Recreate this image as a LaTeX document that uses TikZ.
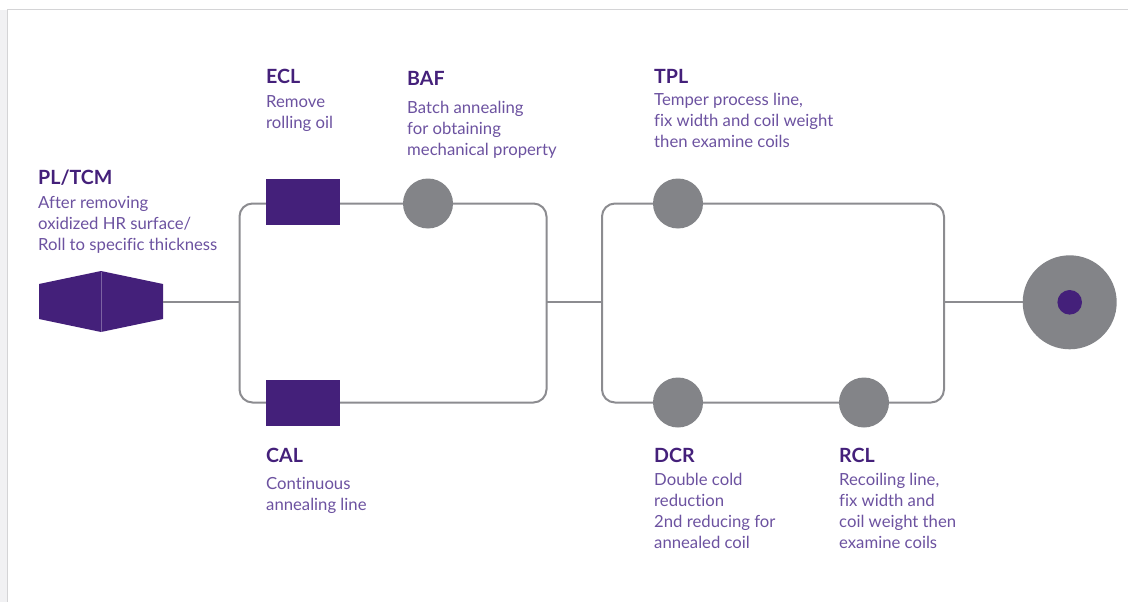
\documentclass[tikz,border=0pt]{standalone}
\usepackage{fontspec}
\setmainfont{Lato}[Ligatures=NoCommon]
\definecolor{deep}{HTML}{44207A}
\definecolor{soft}{HTML}{6C52A0}
\definecolor{steel}{HTML}{838488}
\definecolor{wire}{HTML}{8C8C90}
\definecolor{frameline}{HTML}{D4D4D6}
\definecolor{frameband}{HTML}{F1F1F3}
\tikzset{
  ttl/.style={anchor=base west, inner sep=0pt, text=deep, font=\fontsize{19.6}{20}\selectfont\bfseries},
  txt/.style={anchor=base west, inner sep=0pt, text=soft, font=\fontsize{16.7}{17}\selectfont},
  wireline/.style={draw=wire, line width=2pt},
  unit/.style={circle, fill=steel, minimum size=50pt, inner sep=0pt},
  bath/.style={rectangle, fill=deep, minimum width=74pt, minimum height=46pt, inner sep=0pt},
}
% caption block: title plus body lines at a fixed baseline pitch
\newcommand{\stagecaption}[6]{%
  \node[ttl] (#1-t) at (#2,#3) {#4};
  \foreach \ln [count=\k] in {#6}
    \node[txt] (#1-\k) at (#2,{#5+(\k-1)*20.9}) {\ln};
}
\begin{document}
\begin{tikzpicture}[x=1pt,y=-1pt]
\useasboundingbox (0,0) rectangle (1128,602);
% page frame
\fill[frameband] (0,10) rectangle (6.5,602);
\draw[frameline, line width=1pt] (7,10) -- (7,602);
\draw[frameline, line width=1.6pt] (7,9.5) -- (1128,9.5);

% loops of the line
\draw[wireline, rounded corners=13pt] (239.5,203.5) rectangle (546.5,402.5);
\draw[wireline, rounded corners=13pt] (602,203.5) rectangle (944,402.5);

\coordinate (aW) at (239.5,302.3);
\coordinate (aE) at (546.5,302.3);
\coordinate (bW) at (602,302.3);
\coordinate (bE) at (944,302.3);

% pickling / tandem cold mill
\fill[deep] (39,284) -- (101,271) -- (163,284) -- (163,319) -- (101,332) -- (39,319) -- cycle;
\draw[deep!70!white, line width=0.6pt] (101,271.5) -- (101,331.5);
\coordinate (plR) at (163,302.3);

% process units
\node[bath] (ecl) at (303,201.7) {};
\node[bath] (cal) at (303,403) {};
\node[unit] (baf) at (428,203.5) {};
\node[unit] (tpl) at (678,203.5) {};
\node[unit] (dcr) at (678,402.5) {};
\node[unit] (rcl) at (864,402.5) {};
\node[circle, fill=steel, minimum size=94pt, inner sep=0pt] (coil) at (1069.7,302.3) {};
\node[circle, fill=deep, minimum size=24.6pt, inner sep=0pt] (core) at (coil.center) {};

% connectors between the stages
\draw[wireline] (plR) -- (aW);
\draw[wireline] (aE) -- (bW);
\draw[wireline] (bE) -- (coil.west);

% captions
\stagecaption{pl}{38}{184}{PL/TCM}{208.7}{After removing, oxidized HR surface/, Roll to specific thickness}
\stagecaption{eclc}{266}{84}{ECL}{107.7}{Remove, rolling oil}
\stagecaption{bafc}{407}{85}{BAF}{113.3}{Batch annealing, for obtaining, mechanical property}
\stagecaption{tplc}{654}{84}{TPL}{106}{{Temper process line,}, fix width and coil weight, then examine coils}
\stagecaption{calc}{266}{462.7}{CAL}{489.3}{Continuous, annealing line}
\stagecaption{dcrc}{654}{462.7}{DCR}{485.7}{Double cold, reduction, 2nd reducing for, annealed coil}
\stagecaption{rclc}{839}{462.7}{RCL}{485.7}{{Recoiling line,}, fix width and, coil weight then, examine coils}
\end{tikzpicture}
\end{document}
